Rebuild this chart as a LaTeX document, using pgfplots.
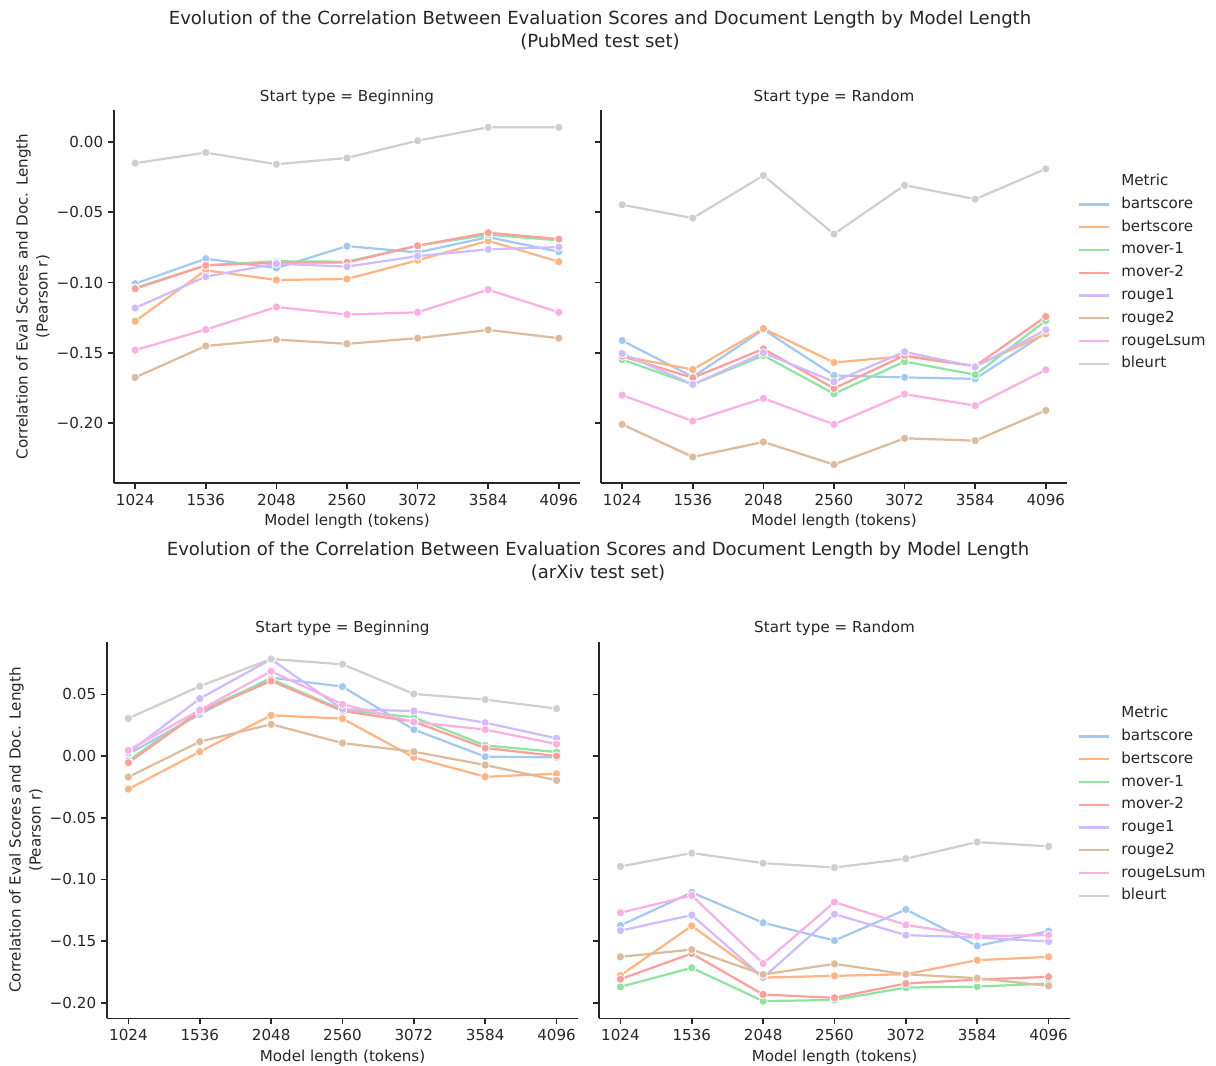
\documentclass[border=0pt]{standalone}
\usepackage{pgfplots}
\pgfplotsset{compat=1.18}
\usepackage{pgfplotstable}
\usepackage{fontspec}
\setmainfont{DejaVu Sans}

\definecolor{cbart}{HTML}{A1C9F4}
\definecolor{cbert}{HTML}{FFB482}
\definecolor{cmone}{HTML}{8DE5A1}
\definecolor{cmtwo}{HTML}{FF9F9B}
\definecolor{crone}{HTML}{D0BBFF}
\definecolor{crtwo}{HTML}{DEBB9B}
\definecolor{crl}{HTML}{FAB0E4}
\definecolor{cbl}{HTML}{CFCFCF}
\definecolor{txt}{gray}{0.15}

% PubMed, start = Beginning
\pgfplotstableread{
x bart bert mone mtwo rone rtwo rl bl
1024 -0.1008 -0.1275 -0.1039 -0.1044 -0.1181 -0.1675 -0.1481 -0.0151
1536 -0.0831 -0.0913 -0.0878 -0.0878 -0.0958 -0.1451 -0.1335 -0.0076
2048 -0.0897 -0.0982 -0.0849 -0.0859 -0.0866 -0.1406 -0.1174 -0.0159
2560 -0.0741 -0.0975 -0.0852 -0.0857 -0.0887 -0.1436 -0.1228 -0.0114
3072 -0.0786 -0.0842 -0.0738 -0.0738 -0.0812 -0.1396 -0.1212 0.0009
3584 -0.0677 -0.0703 -0.0660 -0.0646 -0.0764 -0.1337 -0.1051 0.0104
4096 -0.0781 -0.0852 -0.0700 -0.0691 -0.0748 -0.1396 -0.1212 0.0104
}\pubbeg
% PubMed, start = Random
\pgfplotstableread{
x bart bert mone mtwo rone rtwo rl bl
1024 -0.1413 -0.1524 -0.1548 -0.1524 -0.1505 -0.2009 -0.1801 -0.0447
1536 -0.1671 -0.1619 -0.1725 -0.1678 -0.1725 -0.2241 -0.1985 -0.0542
2048 -0.1335 -0.1328 -0.1519 -0.1472 -0.1500 -0.2134 -0.1824 -0.0239
2560 -0.1661 -0.1569 -0.1791 -0.1753 -0.1706 -0.2295 -0.2009 -0.0655
3072 -0.1675 -0.1524 -0.1562 -0.1519 -0.1493 -0.2108 -0.1794 -0.0308
3584 -0.1685 -0.1595 -0.1656 -0.1595 -0.1600 -0.2125 -0.1876 -0.0407
4096 -0.1358 -0.1365 -0.1271 -0.1242 -0.1337 -0.1910 -0.1621 -0.0192
}\pubran
% arXiv, start = Beginning
\pgfplotstableread{
x bart bert mone mtwo rone rtwo rl bl
1024 0.0016 -0.0268 -0.0038 -0.0054 0.0027 -0.0170 0.0046 0.0305
1536 0.0338 0.0035 0.0365 0.0359 0.0465 0.0116 0.0373 0.0565
2048 0.0635 0.0330 0.0624 0.0608 0.0784 0.0257 0.0686 0.0786
2560 0.0562 0.0303 0.0373 0.0365 0.0378 0.0105 0.0419 0.0743
3072 0.0214 -0.0011 0.0314 0.0278 0.0365 0.0035 0.0276 0.0503
3584 -0.0005 -0.0168 0.0086 0.0065 0.0270 -0.0073 0.0214 0.0457
4096 -0.0011 -0.0143 0.0032 0.0000 0.0143 -0.0197 0.0097 0.0384
}\arxbeg
% arXiv, start = Random
\pgfplotstableread{
x bart bert mone mtwo rone rtwo rl bl
1024 -0.1373 -0.1778 -0.1870 -0.1808 -0.1414 -0.1627 -0.1270 -0.0895
1536 -0.1105 -0.1376 -0.1716 -0.1600 -0.1289 -0.1568 -0.1130 -0.0786
2048 -0.1351 -0.1795 -0.1986 -0.1932 -0.1795 -0.1770 -0.1681 -0.0868
2560 -0.1495 -0.1781 -0.1976 -0.1959 -0.1281 -0.1684 -0.1184 -0.0903
3072 -0.1243 -0.1768 -0.1876 -0.1843 -0.1451 -0.1768 -0.1368 -0.0832
3584 -0.1538 -0.1654 -0.1868 -0.1811 -0.1470 -0.1800 -0.1459 -0.0697
4096 -0.1419 -0.1627 -0.1843 -0.1789 -0.1503 -0.1862 -0.1451 -0.0732
}\arxran

\newcommand{\fs}{\fontsize{10.9bp}{13bp}\selectfont}

\pgfplotsset{
  ser/.style={color=#1, line width=1.6bp, mark=*, mark size=3bp,
    mark options={fill=#1, draw=white, line width=0.55bp, solid}},
  panel/.style={
    scale only axis, anchor=south west,
    axis lines=left, axis line style={-, draw=txt, line width=1.1bp},
    tick align=outside, major tick length=4.3bp,
    tick style={draw=txt, line width=1.1bp},
    xmin=870.4, xmax=4249.6,
    xtick={1024,1536,2048,2560,3072,3584,4096},
    xticklabels={1024,1536,2048,2560,3072,3584,4096},
    ticklabel style={font=\fs, text=txt},
    title style={at={(axis description cs:0.5,1)}, anchor=base, yshift=0.3bp, inner sep=0pt,
      font=\fs, text=txt},
    xlabel={Model length (tokens)},
    xlabel style={at={(axis description cs:0.5,0)}, anchor=base, yshift=-30.8bp, inner sep=0pt,
      font=\fs, text=txt},
    ylabel style={align=center, anchor=south, inner sep=0pt,
      font=\fontsize{10.9bp}{14.4bp}\selectfont, text=txt},
  },
  leg/.style={
    legend image code/.code={\draw[##1] (0bp,0bp) -- (21.6bp,0bp);},
    legend cell align=left,
    legend style={anchor=north west, draw=none, fill=none, inner sep=0pt,
      row sep=6.6bp, column sep=7.8bp,
      nodes={inner sep=0pt, text height=7.8bp, text depth=2bp, text=txt, font=\fs}},
    legend entries={Metric,bartscore,bertscore,mover-1,mover-2,rouge1,rouge2,rougeLsum,bleurt},
  },
}

\newcommand{\allseries}[1]{%
  \addplot[ser=cbart] table[x=x,y=bart] {#1};
  \addplot[ser=cbert] table[x=x,y=bert] {#1};
  \addplot[ser=cmone] table[x=x,y=mone] {#1};
  \addplot[ser=cmtwo] table[x=x,y=mtwo] {#1};
  \addplot[ser=crone] table[x=x,y=rone] {#1};
  \addplot[ser=crtwo] table[x=x,y=rtwo] {#1};
  \addplot[ser=crl] table[x=x,y=rl] {#1};
  \addplot[ser=cbl] table[x=x,y=bl] {#1};
}

\begin{document}
\begin{tikzpicture}
\path[use as bounding box] (0bp,0bp) rectangle (875.52bp,-767.52bp);

\node[align=center, text=txt, font=\fontsize{13bp}{16.6bp}\selectfont] at (432bp,-21.96bp)
  {Evolution of the Correlation Between Evaluation Scores and Document Length by Model Length\\(PubMed test set)};
\node[align=center, text=txt, font=\fontsize{13bp}{16.6bp}\selectfont] at (430.56bp,-404.28bp)
  {Evolution of the Correlation Between Evaluation Scores and Document Length by Model Length\\(arXiv test set)};

% ---------- PubMed, Beginning ----------
\begin{axis}[panel, at={(82.08bp,-347.76bp)}, width=335.52bp, height=268.56bp,
  ymin=-0.2426, ymax=0.0227,
  ytick={-0.2,-0.15,-0.1,-0.05,0}, yticklabels={−0.20,−0.15,−0.10,−0.05,0.00},
  title={Start type = Beginning},
  ylabel={Correlation of Eval Scores and Doc. Length\\(Pearson r)},
  ylabel style={at={(axis description cs:-0.1373,0.5)}}]
\allseries{\pubbeg}
\end{axis}

% ---------- PubMed, Random ----------
\begin{axis}[panel, leg, at={(432.72bp,-347.76bp)}, width=335.52bp, height=268.56bp,
  ymin=-0.2426, ymax=0.0227,
  ytick={-0.2,-0.15,-0.1,-0.05,0}, yticklabels={},
  title={Start type = Random},
  legend style={at={(1.0236,0.827)}}]
\addlegendimage{empty legend}
\allseries{\pubran}
\end{axis}

% ---------- arXiv, Beginning ----------
\begin{axis}[panel, at={(77.04bp,-733.18bp)}, width=339.12bp, height=271.15bp,
  ymin=-0.2125, ymax=0.0926,
  ytick={-0.2,-0.15,-0.1,-0.05,0,0.05}, yticklabels={−0.20,−0.15,−0.10,−0.05,0.00,0.05},
  title={Start type = Beginning},
  ylabel={Correlation of Eval Scores and Doc. Length\\(Pearson r)},
  ylabel style={at={(axis description cs:-0.1359,0.5)}}]
\allseries{\arxbeg}
\end{axis}

% ---------- arXiv, Random ----------
\begin{axis}[panel, leg, at={(431.28bp,-733.18bp)}, width=339.12bp, height=271.15bp,
  ymin=-0.2125, ymax=0.0926,
  ytick={-0.2,-0.15,-0.1,-0.05,0,0.05}, yticklabels={},
  title={Start type = Random},
  legend style={at={(1.017,0.8277)}}]
\addlegendimage{empty legend}
\allseries{\arxran}
\end{axis}
\end{tikzpicture}
\end{document}
